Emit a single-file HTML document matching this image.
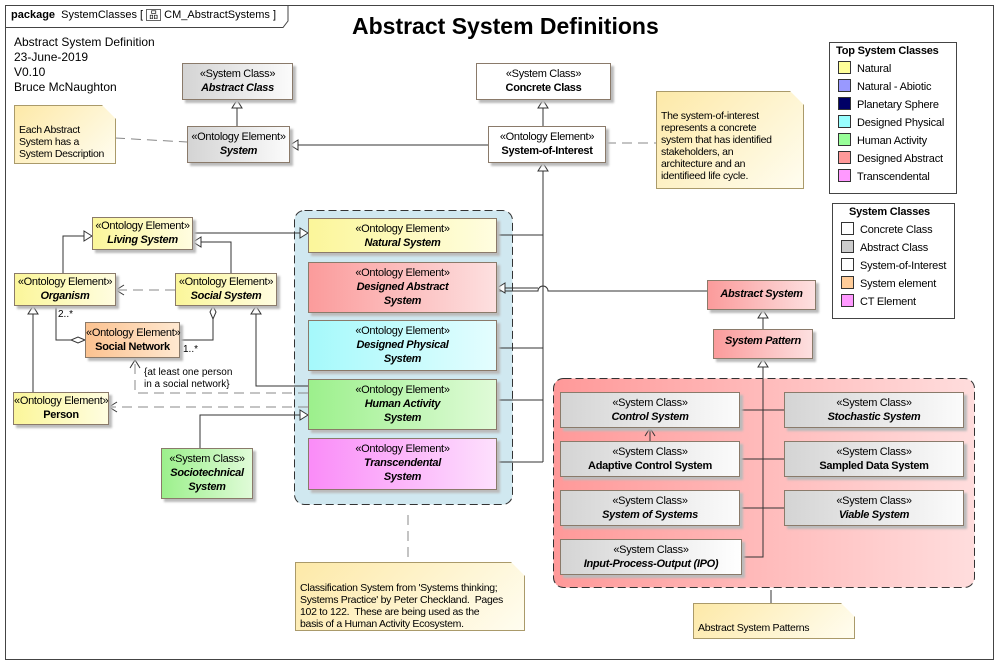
<!DOCTYPE html>
<html><head><meta charset="utf-8"><style>
body{margin:0;background:#fff;}
#c{position:relative;width:998px;height:664px;overflow:hidden;font-family:"Liberation Sans",sans-serif;color:#000;}
.b{position:absolute;box-sizing:border-box;border:1px solid #8a7a6a;box-shadow:3px 3px 2px #bbb;text-align:center;font-size:11px;line-height:14px;white-space:nowrap;letter-spacing:-0.3px;}
.b .s{display:block;margin-top:3px;}
.b i{font-weight:bold;font-style:italic;display:block;}
.b b{display:block;}
.gy{background:linear-gradient(90deg,#d4d4d4,#fbfbfb);}
.wh{background:#fff;}
.yl{background:linear-gradient(90deg,#fbf69a,#fffde0);}
.rd{background:linear-gradient(90deg,#fb9b9b,#fde0e0);}
.cy{background:linear-gradient(90deg,#a5f9fb,#e4fdfe);}
.gr{background:linear-gradient(90deg,#9cf08c,#e0fbd8);}
.pk{background:linear-gradient(90deg,#fa8cf8,#fde0fd);}
.or{background:linear-gradient(90deg,#fbc290,#ffe8d0);}
.nt{position:absolute;box-sizing:border-box;border:1px solid #aa9a6a;background:linear-gradient(135deg,#fde9a8,#fffdf0);box-shadow:3px 3px 2px #bbb;font-size:10.5px;line-height:12px;padding:4px;letter-spacing:-0.3px;clip-path:polygon(0 0,calc(100% - 14px) 0,100% 14px,100% 100%,0 100%);}
.t{position:absolute;font-size:11px;white-space:nowrap;}
.lg{position:absolute;border:1px solid #444;background:#fff;font-size:11px;white-space:nowrap;letter-spacing:-0.2px;}
.lg div{height:18px;line-height:16px;padding-left:8px;}
.lg span{display:inline-block;width:11px;height:11px;border:1px solid #333;vertical-align:-2px;margin-right:6px;}
</style></head><body><div id="c">
<svg width="998" height="664" style="position:absolute;left:0;top:0">
<rect x="5.5" y="5.5" width="988" height="654" fill="none" stroke="#444"/>
<path d="M5.5 27.5 H283 L288 21 V5.5" fill="none" stroke="#444"/>
<rect x="294.5" y="210.5" width="218" height="294" rx="10" fill="#d0e8f0" stroke="#333" stroke-dasharray="8,4"/>
<defs><linearGradient id="rg" x1="0" x2="1"><stop offset="0" stop-color="#f99"/><stop offset="1" stop-color="#fdd"/></linearGradient></defs>
<rect x="553.5" y="378.5" width="421" height="209" rx="10" fill="url(#rg)" stroke="#333" stroke-dasharray="8,4"/>
<g stroke="#333" fill="none" stroke-width="1">
<path d="M237 100 V126"/><path d="M543 100 V126"/>
<path d="M488 145 H290"/>
<path d="M543 163 V462 M497 235 H543 M497 288 H538 M497 348 H543 M497 400 H543 M497 462 H543"/>
<path d="M707 291 H548 a5 5 0 0 0 -10 0 H497"/>
<path d="M193 233 H308"/>
<path d="M63 273 V236 H92"/><path d="M231 273 V242 H193"/>
<path d="M56 306 V340 H85"/><path d="M180 340 H213 V306"/>
<path d="M33 392 V306"/>
<path d="M256 306 V386 H308"/>
<path d="M200 448 V415 H308"/>
<path d="M763 310 V329"/>
<path d="M763 359 V557 H742 M740 410 H784 M740 459 H784 M740 508 H784"/>
<path d="M650 428 V441"/>
<path d="M771 590 V603"/>
</g>
<g stroke="#888" fill="none" stroke-dasharray="10,6">
<path d="M115 138 L187 142"/><path d="M606 143 H656"/>
<path d="M175 290 H116"/>
<path d="M308 407 H109"/>
<path d="M308 393 H135 V360"/>
<path d="M408 515 V562"/>
</g>
<g stroke="#333" fill="#fff">
<path d="M237 100 l-5 8 h10z"/><path d="M543 100 l-5 8 h10z"/>
<path d="M290 145 l8 -5 v10z"/><path d="M543 163 l-5 8 h10z"/>
<path d="M497 288 l8 -5 v10z"/>
<path d="M308 233 l-8 -5 v10z"/><path d="M92 236 l-8 -5 v10z"/><path d="M193 242 l8 -5 v10z"/>
<path d="M33 306 l-5 8 h10z"/><path d="M256 306 l-5 8 h10z"/>
<path d="M308 415 l-8 -5 v10z"/>
<path d="M763 310 l-5 8 h10z"/><path d="M763 359 l-5 8 h10z"/>
<path d="M85 340 l-7 -3 l-7 3 l7 3z"/><path d="M213 306 l-3 6 l3 7 l3 -7z"/>
</g>
<g stroke="#333" fill="none">
<path d="M124 285 l-8 5 l8 5"/><path d="M117 402 l-8 5 l8 5"/><path d="M130 368 l5 -8 l5 8"/><path d="M645 436 l5 -8 l5 8"/>
</g>
</svg>
<div class="t" style="left:11px;top:8px;font-size:11px"><b>package</b>&nbsp; SystemClasses [ <span style="border:1px solid #666;padding:0 2px;font-size:9px">品</span> CM_AbstractSystems ]</div>
<div class="t" style="left:352px;top:13px;font-size:23px;font-weight:bold">Abstract System Definitions</div>
<div class="t" style="left:14px;top:35px;font-size:12px;line-height:15px">Abstract System Definition<br>23-June-2019<br>V0.10<br>Bruce McNaughton</div>
<div class="nt" style="left:14px;top:105px;width:102px;height:59px;padding-top:18px;white-space:nowrap">Each Abstract<br>System has a<br>System Description</div>
<div class="b gy" style="left:182px;top:63px;width:111px;height:37px"><span class="s">«System Class»</span><i>Abstract Class</i></div>
<div class="b gy" style="left:187px;top:126px;width:103px;height:37px"><span class="s">«Ontology Element»</span><i>System</i></div>
<div class="b wh" style="left:476px;top:63px;width:135px;height:37px"><span class="s">«System Class»</span><b>Concrete Class</b></div>
<div class="b wh" style="left:488px;top:126px;width:118px;height:37px"><span class="s">«Ontology Element»</span><b>System-of-Interest</b></div>
<div class="nt" style="left:656px;top:91px;width:148px;height:98px;padding-top:18px;white-space:nowrap">The system-of-interest<br>represents a concrete<br>system that has identified<br>stakeholders, an<br>architecture and an<br>identifieed life cycle.</div>
<div class="lg" style="left:829px;top:42px;width:126px;height:150px"><div style="font-weight:bold;padding-left:6px">Top System Classes</div>
<div><span style="background:#ff9"></span>Natural</div><div><span style="background:#99f"></span>Natural - Abiotic</div><div><span style="background:#006"></span>Planetary Sphere</div><div><span style="background:#9ff"></span>Designed Physical</div><div><span style="background:#9f9"></span>Human Activity</div><div><span style="background:#f99"></span>Designed Abstract</div><div><span style="background:#f9f"></span>Transcendental</div></div>
<div class="lg" style="left:832px;top:203px;width:121px;height:114px"><div style="font-weight:bold;padding-left:16px">System Classes</div>
<div><span></span>Concrete Class</div><div><span style="background:#ccc"></span>Abstract Class</div><div><span></span>System-of-Interest</div><div><span style="background:#fc9"></span>System element</div><div><span style="background:#f9f"></span>CT Element</div></div>
<div class="b yl" style="left:92px;top:217px;width:101px;height:33px"><span class="s" style="margin-top:1px">«Ontology Element»</span><i>Living System</i></div>
<div class="b yl" style="left:14px;top:273px;width:102px;height:33px"><span class="s" style="margin-top:1px">«Ontology Element»</span><i>Organism</i></div>
<div class="b yl" style="left:175px;top:273px;width:102px;height:33px"><span class="s" style="margin-top:1px">«Ontology Element»</span><i>Social System</i></div>
<div class="b or" style="left:85px;top:322px;width:95px;height:36px"><span class="s">«Ontology Element»</span><b>Social Network</b></div>
<div class="t" style="left:58px;top:309px;font-size:10px">2..*</div>
<div class="t" style="left:183px;top:344px;font-size:10px">1..*</div>
<div class="t" style="left:144px;top:367px;font-size:10px;line-height:12px">{at least one person<br>in a social network}</div>
<div class="b yl" style="left:13px;top:392px;width:96px;height:33px"><span class="s" style="margin-top:1px">«Ontology Element»</span><b>Person</b></div>
<div class="b gr" style="left:161px;top:448px;width:92px;height:51px"><span class="s">«System Class»</span><i>Sociotechnical</i><i>System</i></div>
<div class="b yl" style="left:308px;top:218px;width:189px;height:35px"><span class="s">«Ontology Element»</span><i>Natural System</i></div>
<div class="b rd" style="left:308px;top:262px;width:189px;height:51px"><span class="s">«Ontology Element»</span><i>Designed Abstract</i><i>System</i></div>
<div class="b cy" style="left:308px;top:320px;width:189px;height:51px"><span class="s">«Ontology Element»</span><i>Designed Physical</i><i>System</i></div>
<div class="b gr" style="left:308px;top:379px;width:189px;height:51px"><span class="s">«Ontology Element»</span><i>Human Activity</i><i>System</i></div>
<div class="b pk" style="left:308px;top:438px;width:189px;height:52px"><span class="s">«Ontology Element»</span><i>Transcendental</i><i>System</i></div>
<div class="nt" style="left:295px;top:562px;width:230px;height:69px;padding-top:19px;white-space:nowrap">Classification System from 'Systems thinking;<br>Systems Practice' by Peter Checkland.&nbsp; Pages<br>102 to 122.&nbsp; These are being used as the<br>basis of a Human Activity Ecosystem.</div>
<div class="b rd" style="left:707px;top:280px;width:109px;height:30px;line-height:26px"><i>Abstract System</i></div>
<div class="b rd" style="left:713px;top:329px;width:100px;height:30px;line-height:22px"><i>System Pattern</i></div>
<div class="b gy" style="left:560px;top:392px;width:180px;height:36px"><span class="s">«System Class»</span><i>Control System</i></div>
<div class="b gy" style="left:784px;top:392px;width:180px;height:36px"><span class="s">«System Class»</span><i>Stochastic System</i></div>
<div class="b gy" style="left:560px;top:441px;width:180px;height:36px"><span class="s">«System Class»</span><b>Adaptive Control System</b></div>
<div class="b gy" style="left:784px;top:441px;width:180px;height:36px"><span class="s">«System Class»</span><b>Sampled Data System</b></div>
<div class="b gy" style="left:560px;top:490px;width:180px;height:36px"><span class="s">«System Class»</span><i>System of Systems</i></div>
<div class="b gy" style="left:784px;top:490px;width:180px;height:36px"><span class="s">«System Class»</span><i>Viable System</i></div>
<div class="b gy" style="left:560px;top:539px;width:182px;height:36px;background:linear-gradient(90deg,#d4d4d4,#fff)"><span class="s">«System Class»</span><i>Input-Process-Output (IPO)</i></div>
<div class="nt" style="left:693px;top:603px;width:162px;height:36px;padding-top:18px">Abstract System Patterns</div>
</div></body></html>
